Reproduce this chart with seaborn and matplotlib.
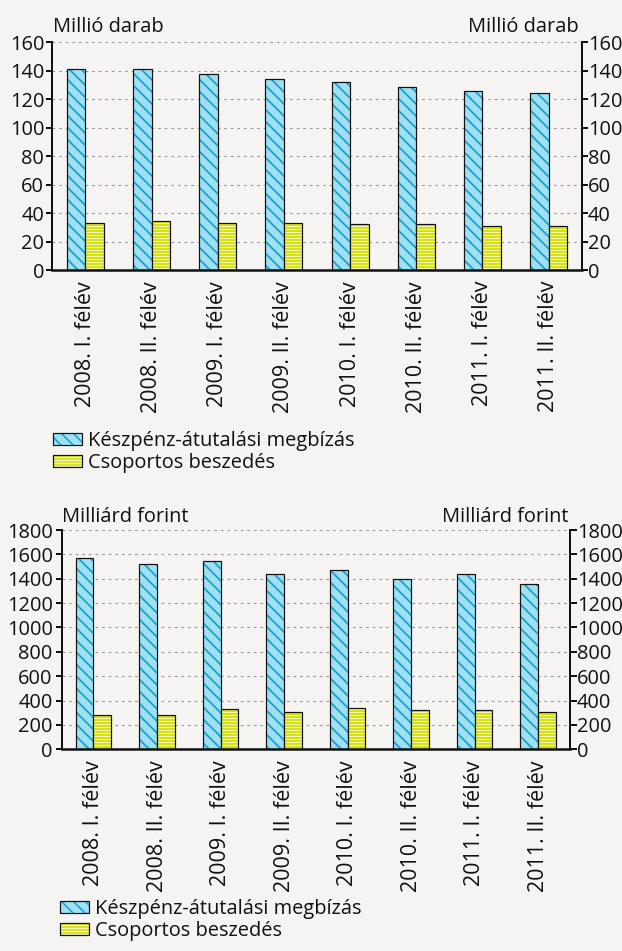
import matplotlib
matplotlib.use("Agg")
import matplotlib.pyplot as plt
import matplotlib.colors as mcolors
import numpy as np
import pandas as pd
import seaborn as sns

# Half-year periods
periods = ["2008. I. félév", "2008. II. félév", "2009. I. félév", "2009. II. félév",
           "2010. I. félév", "2010. II. félév", "2011. I. félév", "2011. II. félév"]
series_names = ["Készpénz-átutalási megbízás", "Csoportos beszedés"]

# Number of transactions (million pieces)
count_transfer = [141.0, 141.0, 137.5, 134.4, 131.9, 128.8, 126.0, 124.1]
count_collection = [33.3, 34.4, 33.3, 33.3, 32.1, 32.1, 31.1, 31.1]

# Value of transactions (billion HUF)
value_transfer = [1568, 1524, 1546, 1442, 1475, 1395, 1442, 1359]
value_collection = [284, 284, 331, 309, 342, 320, 320, 309]

BG = "#f5f4f2"
FILL = ["#9fe1f3", "#d0dc00"]
HATCH = ["\\\\", "----"]
HATCH_COLOR = ["#17a5d8", "#f2f5b0"]
HATCH_LW = [1.9, 1.3]
FONT = 20
CAT_FONT = 21.5
INK = "#111111"

sns.set_style("white")
plt.rcParams["font.family"] = ["Open Sans", "DejaVu Sans"]
plt.rcParams["hatch.linewidth"] = 1.6

W, H, DPI = 622, 951, 72
fig = plt.figure(figsize=(W / DPI, H / DPI), dpi=DPI, facecolor=BG)


def frac_rect(left, top, right, bottom):
    return [left / W, 1 - bottom / H, (right - left) / W, (bottom - top) / H]


def panel(rect, first, second, ymax, ystep, unit, unit_left, unit_right, unit_base,
          legend_top, legend_left, tick_len):
    ax = fig.add_axes(frac_rect(*rect))
    ax.set_facecolor(BG)
    df = pd.DataFrame({
        "period": periods * 2,
        "series": [series_names[0]] * len(periods) + [series_names[1]] * len(periods),
        "value": list(first) + list(second),
    })
    sns.barplot(data=df, x="period", y="value", hue="series", order=periods,
                hue_order=series_names, palette=FILL, saturation=1, width=0.56,
                edgecolor=INK, linewidth=1.2, legend=False, ax=ax, zorder=3)
    for cont, h, hc, hlw in zip(ax.containers, HATCH, HATCH_COLOR, HATCH_LW):
        for bar in cont:
            bar.set_hatch(h)
            bar._hatch_color = mcolors.to_rgba(hc)
            if hasattr(bar, "set_hatch_linewidth"):
                bar.set_hatch_linewidth(hlw)
            elif hasattr(bar, "_hatch_linewidth"):
                bar._hatch_linewidth = hlw

    ticks = np.arange(0, ymax + ystep / 2, ystep)
    ax.set_ylim(0, ymax)
    ax.set_xlim(-0.5, len(periods) - 0.5)
    ax.set_yticks(ticks)
    ax.set_yticklabels([f"{t:.0f}" for t in ticks], fontsize=FONT, color=INK)
    ax.set_xlabel("")
    ax.set_ylabel("")
    ax.set_xticks(range(len(periods)))
    ax.set_xticklabels(periods, rotation=90, fontsize=CAT_FONT, va="top", ha="center",
                       color=INK)
    ax.set_xticks(np.arange(-0.5, len(periods)), minor=True)
    ax.tick_params(axis="x", which="major", length=0, pad=11)
    ax.tick_params(axis="x", which="minor", length=tick_len, width=2, direction="out",
                   color=INK)
    ax.tick_params(axis="y", which="major", length=tick_len, width=2, direction="out",
                   color=INK, pad=2.5, left=True)
    ax.yaxis.grid(True, color="#9a9a9a", linestyle=(0, (2.5, 3.5)), linewidth=1.1, zorder=0)
    ax.set_axisbelow(True)
    for side in ["top", "right"]:
        ax.spines[side].set_visible(False)
    ax.spines["left"].set_linewidth(2)
    ax.spines["left"].set_color(INK)
    ax.spines["bottom"].set_linewidth(2.5)
    ax.spines["bottom"].set_color(INK)
    ax.spines["bottom"].set_zorder(5)

    ax2 = ax.twinx()
    ax2.set_ylim(0, ymax)
    ax2.set_yticks(ticks)
    ax2.set_yticklabels([f"{t:.0f}" for t in ticks], fontsize=FONT, color=INK)
    ax2.tick_params(axis="y", length=tick_len, width=2, direction="out",
                    color=INK, pad=0.5, right=True)
    ax2.grid(False)
    for side in ["top", "left", "bottom"]:
        ax2.spines[side].set_visible(False)
    ax2.spines["right"].set_linewidth(2)
    ax2.spines["right"].set_color(INK)

    fig.text(unit_left / W, 1 - unit_base / H, unit, fontsize=FONT, ha="left",
             va="baseline", color=INK)
    fig.text(unit_right / W, 1 - unit_base / H, unit, fontsize=FONT, ha="right",
             va="baseline", color=INK)

    handles = [cont[0] for cont in ax.containers]
    leg = fig.legend(handles, series_names, loc="upper left",
                     bbox_to_anchor=(legend_left / W, 1 - legend_top / H),
                     frameon=False, fontsize=FONT, handlelength=1.45, handleheight=0.5,
                     handletextpad=0.3, labelspacing=0.1, borderpad=0, borderaxespad=0)
    for t in leg.get_texts():
        t.set_color(INK)
    return ax


panel((52.3, 42.3, 581.7, 270.0), count_transfer, count_collection, 160, 20,
      "Millió darab", 53, 579, 32, 431, 53, 5.6)
panel((61.7, 530.0, 570.0, 749.3), value_transfer, value_collection, 1800, 200,
      "Milliárd forint", 62, 568, 522, 899, 60, 6.5)

fig.savefig("out.png", dpi=DPI, facecolor=BG)
